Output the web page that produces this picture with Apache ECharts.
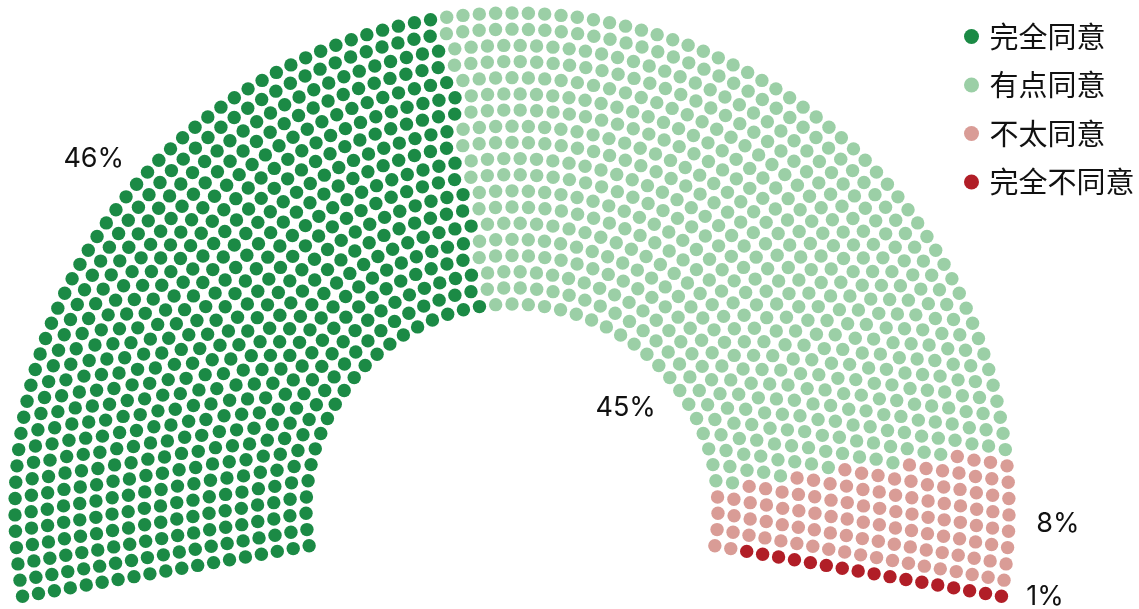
<!DOCTYPE html>
<html>
<head>
<meta charset="utf-8">
<script src="https://cdn.jsdelivr.net/npm/echarts@6/dist/echarts.min.js"></script>
<style>
  html, body { margin: 0; padding: 0; background: #fff; }
  #main { width: 1139px; height: 609px; }
</style>
</head>
<body>
<div id="main"></div>
<script>
// 数据
var categories = ['完全同意', '有点同意', '不太同意', '完全不同意'];
var shares = [46.0, 45.0, 7.8, 1.2];
var colors = ['#1b8a45', '#9bcfa6', '#d99c96', '#b11e27'];

// 半环布局（像素 = 半径轴单位）
var innerR = 206, outerR = 497, rings = 19, gap = 16.4;
var fromAngle = 190, toAngle = -10;
// 标签位置 [角度, 半径]
var labelSpots = [[140, 546], [42, 153], [-1.5, 546], [-9.3, 540]];

var span = fromAngle - toAngle;
var dots = [];
for (var i = 0; i < rings; i++) {
  var r = innerR + i * (outerR - innerR) / (rings - 1);
  var n = Math.round(r * span * Math.PI / 180 / gap) + 1;
  for (var k = 0; k < n; k++) {
    dots.push({ r: r, a: fromAngle - k * span / (n - 1), ring: i });
  }
}
dots.sort(function (p, q) { return q.a - p.a || p.ring - q.ring; });

// 最大余数法分配点数
var total = dots.length;
var sum = shares.reduce(function (s, v) { return s + v; }, 0);
var raw = shares.map(function (v) { return v / sum * total; });
var counts = raw.map(Math.floor);
var left = total - counts.reduce(function (s, v) { return s + v; }, 0);
raw.map(function (v, i) { return [v - Math.floor(v), i]; })
  .sort(function (p, q) { return q[0] - p[0]; })
  .slice(0, left).forEach(function (p) { counts[p[1]]++; });

function norm(a) { return ((a % 360) + 360) % 360; }

var series = [];
var idx = 0;
categories.forEach(function (name, c) {
  var data = [];
  for (var j = 0; j < counts[c]; j++, idx++) {
    data.push([dots[idx].r, norm(dots[idx].a)]);
  }
  series.push({
    name: name,
    type: 'scatter',
    coordinateSystem: 'polar',
    symbol: 'circle',
    symbolSize: 13.4,
    itemStyle: { color: colors[c], opacity: 1 },
    data: data
  });
});

series.push({
  type: 'scatter',
  coordinateSystem: 'polar',
  symbolSize: 1,
  itemStyle: { color: 'rgba(0,0,0,0)', opacity: 1 },
  label: {
    show: true,
    position: 'inside',
    formatter: function (p) { return p.data.text; },
    color: '#111',
    fontSize: 27,
    fontFamily: 'Inter, "Noto Sans", sans-serif'
  },
  data: labelSpots.map(function (s, c) {
    return { value: [s[1], norm(s[0])], text: Math.round(shares[c]) + '%' };
  })
});

var chart = echarts.init(document.getElementById('main'));
chart.setOption({
  animation: false,
  polar: { center: [512, 510], radius: 600 },
  angleAxis: { type: 'value', min: 0, max: 360, startAngle: 0, clockwise: false, show: false },
  radiusAxis: { type: 'value', min: 0, max: 600, show: false },
  legend: {
    data: categories,
    orient: 'vertical',
    left: 959,
    top: 17,
    icon: 'circle',
    itemWidth: 26,
    itemHeight: 15,
    itemGap: 19.5,
    textStyle: {
      fontSize: 29,
      lineHeight: 29,
      color: '#111',
      fontFamily: '"Noto Sans CJK SC", sans-serif'
    }
  },
  series: series
});
window.addEventListener('resize', function () { chart.resize(); });
</script>
</body>
</html>
